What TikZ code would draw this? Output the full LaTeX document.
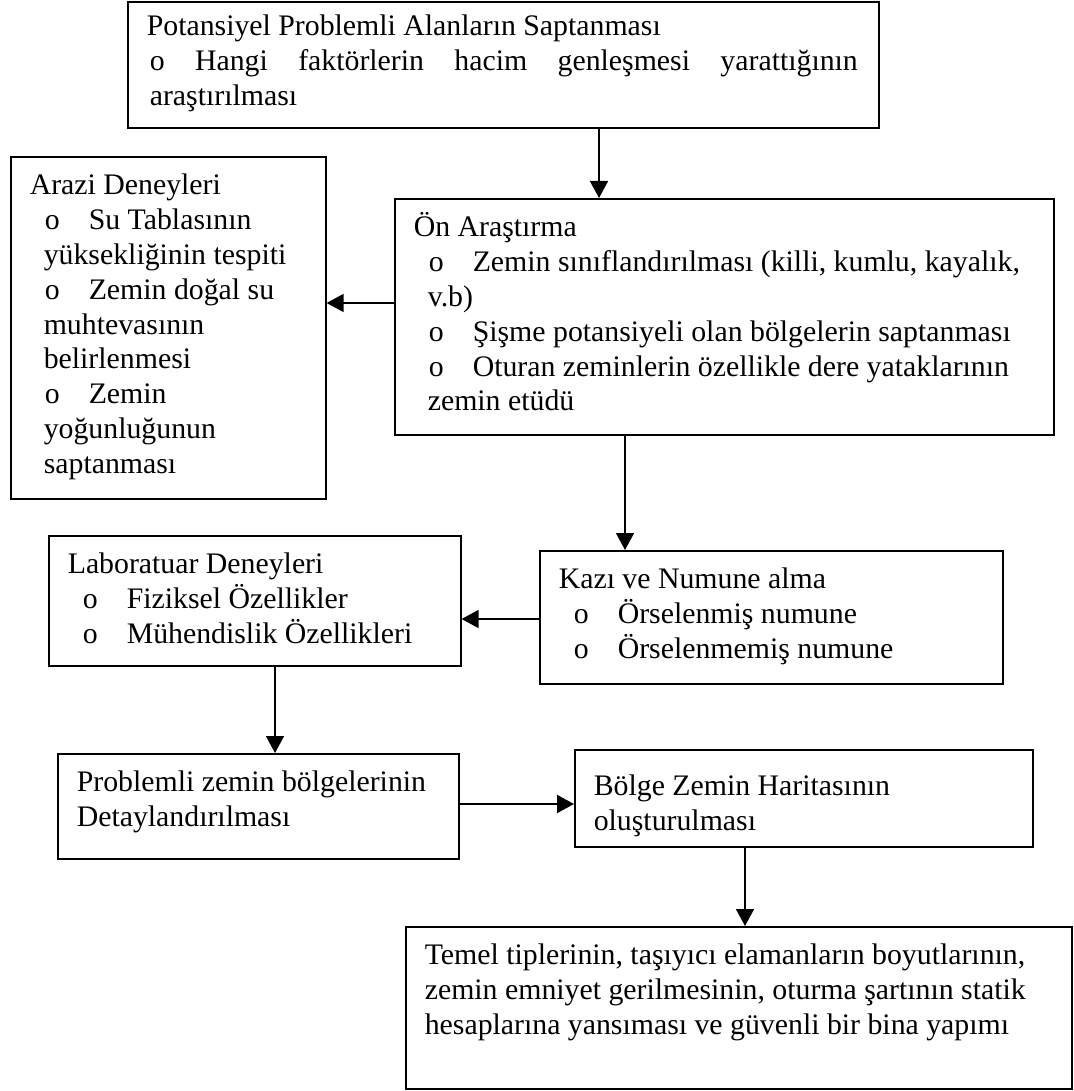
\documentclass[tikz,border=0pt]{standalone}
\usepackage{fontspec}
\setmainfont{Liberation Serif}
\usepackage{tikz}
\usetikzlibrary{arrows.meta, calc}
\tikzset{
  box/.style={rectangle, draw=black, line width=0.8pt, inner sep=0pt,
    anchor=north west, font=\fontsize{14.9}{17.4}\selectfont},
  arrow/.style={-{Triangle[length=8.5pt, width=9pt]}, line width=0.8pt, color=black}
}
% text block of a box: [first baseline]{width}{height}{lines}
\newcommand{\boxtxt}[4][19pt]{\parbox[c][#3][t]{#2}{\raggedright\leftskip=9.5pt\rule{0pt}{#1}#4}}
\newcommand{\itm}[1]{\hspace*{7.5pt}\makebox[22pt][l]{o}#1}
\newcommand{\cnt}[1]{\hspace*{7pt}#1}

\begin{document}
\begin{tikzpicture}[x=0.5pt, y=-0.5pt]
  \useasboundingbox (0,0) rectangle (1073,1091);

  \node[box] (pot) at (127,1) {\boxtxt[17pt]{375.5pt}{63pt}{Potansiyel Problemli Alanların Saptanması\\
    \hspace*{1.5pt}\makebox[354pt][s]{o Hangi faktörlerin hacim genleşmesi yarattığının}\\
    \hspace*{1.5pt}araştırılması}};
  \node[box] (arazi) at (10,156) {\boxtxt{157.5pt}{171pt}{Arazi Deneyleri\\
    \itm{Su Tablasının}\\ \cnt{yüksekliğinin tespiti}\\
    \itm{Zemin doğal su}\\ \cnt{muhtevasının}\\ \cnt{belirlenmesi}\\
    \itm{Zemin}\\ \cnt{yoğunluğunun}\\ \cnt{saptanması}}};
  \node[box] (on) at (394,198) {\boxtxt{329.5pt}{118pt}{Ön Araştırma\\
    \itm{Zemin sınıflandırılması (killi, kumlu, kayalık,}\\ \cnt{v.b)}\\
    \itm{Şişme potansiyeli olan bölgelerin saptanması}\\
    \itm{Oturan zeminlerin özellikle dere yataklarının}\\ \cnt{zemin etüdü}}};
  \node[box] (kazi) at (539,550) {\boxtxt{231.5pt}{66.5pt}{Kazı ve Numune alma\\
    \itm{Örselenmiş numune}\\ \itm{Örselenmemiş numune}}};
  \node[box] (lab) at (48,535) {\boxtxt{206pt}{65pt}{Laboratuar Deneyleri\\
    \itm{Fiziksel Özellikler}\\ \itm{Mühendislik Özellikleri}}};
  \node[box] (prob) at (57,753) {\boxtxt{200.5pt}{52.5pt}{Problemli zemin bölgelerinin\\
    Detaylandırılması}};
  \node[box] (bolge) at (574,749) {\boxtxt[23pt]{229pt}{48.5pt}{Bölge Zemin Haritasının\\
    oluşturulması}};
  \node[box] (temel) at (405,926) {\boxtxt{333pt}{81pt}{Temel tiplerinin, taşıyıcı elamanların boyutlarının,\\
    zemin emniyet gerilmesinin, oturma şartının statik\\
    hesaplarına yansıması ve güvenli bir bina yapımı}};

  \draw[arrow] ($(pot.south west)+(472,0)$) -- ($(on.north west)+(205,0)$);
  \draw[arrow] ($(on.north west)+(0,105)$) -- ($(arazi.north east)+(0,147)$);
  \draw[arrow] ($(on.south west)+(231,0)$) -- ($(kazi.north west)+(86,0)$);
  \draw[arrow] ($(kazi.north west)+(0,69)$) -- ($(lab.north east)+(0,84)$);
  \draw[arrow] ($(lab.south west)+(227,0)$) -- ($(prob.north west)+(218,0)$);
  \draw[arrow] ($(prob.north east)+(0,51)$) -- ($(bolge.north west)+(0,55)$);
  \draw[arrow] ($(bolge.south west)+(171,0)$) -- ($(temel.north west)+(340,0)$);
\end{tikzpicture}
\end{document}
